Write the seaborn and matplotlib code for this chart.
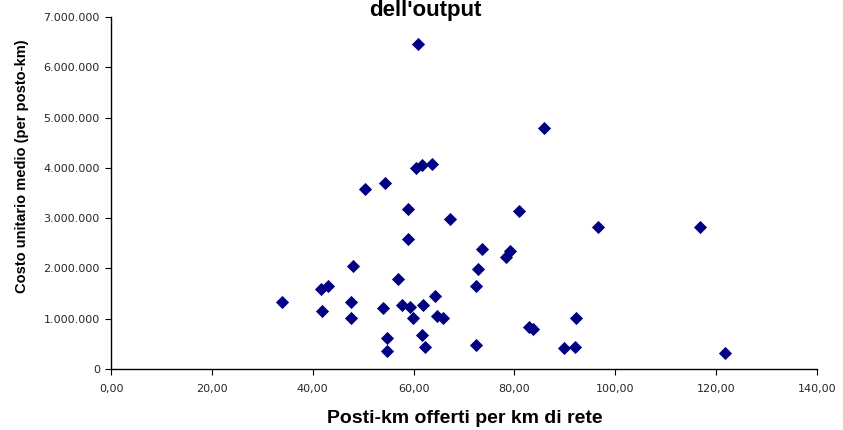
import matplotlib
matplotlib.use("Agg")
import matplotlib.pyplot as plt
import matplotlib.ticker as mticker
import seaborn as sns
import pandas as pd

# posti-km offerti per km di rete
posti_km = [60.8, 85.8, 63.6, 61.7, 60.5, 54.3, 50.4, 58.8, 67.3, 81.0,
            96.6, 116.7, 58.8, 73.6, 79.1, 78.3, 48.0, 72.7, 43.0, 41.6,
            56.9, 72.4, 64.3, 34.0, 47.5, 54.0, 57.7, 59.2, 61.8, 41.8,
            47.6, 59.9, 64.6, 65.9, 82.9, 83.7, 92.2, 54.7, 61.7, 54.7,
            62.3, 72.4, 89.9, 92.1, 121.7]
# costo unitario medio (per posto-km)
costo = [6460000, 4800000, 4080000, 4050000, 3990000, 3700000, 3570000, 3180000, 2980000, 3150000,
         2830000, 2830000, 2580000, 2380000, 2350000, 2230000, 2050000, 1990000, 1660000, 1600000,
         1780000, 1660000, 1460000, 1330000, 1330000, 1220000, 1270000, 1230000, 1270000, 1160000,
         1010000, 1010000, 1050000, 1010000, 840000, 800000, 1010000, 620000, 670000, 350000,
         440000, 480000, 410000, 440000, 320000]

df = pd.DataFrame({"x": posti_km, "y": costo})

sns.set_style("white")
plt.rcParams["font.family"] = ["Liberation Sans", "DejaVu Sans"]
plt.rcParams["text.color"] = "black"

fig = plt.figure(figsize=(8.43, 4.30), dpi=100)
ax = fig.add_axes([111 / 843, 1 - 369 / 430, (817 - 111) / 843, (369 - 17) / 430])

sns.scatterplot(data=df, x="x", y="y", marker="D", color="#000080",
                s=45, linewidth=0, ax=ax, clip_on=False)

ax.set_xlim(0, 140)
ax.set_ylim(0, 7000000)
ax.set_xticks(range(0, 141, 20))
ax.set_yticks(range(0, 7000001, 1000000))
ax.xaxis.set_major_formatter(mticker.FuncFormatter(lambda v, p: f"{v:.2f}".replace(".", ",")))
ax.yaxis.set_major_formatter(mticker.FuncFormatter(lambda v, p: f"{int(v):,}".replace(",", ".")))

for s in ["top", "right"]:
    ax.spines[s].set_visible(False)
for s in ["left", "bottom"]:
    ax.spines[s].set_color("black")
    ax.spines[s].set_linewidth(1.0)

ax.tick_params(axis="both", direction="out", length=4, width=0.8, color="black",
               labelsize=8, labelcolor="#262626", left=True, bottom=True)
ax.tick_params(axis="y", pad=4)
ax.tick_params(axis="x", pad=7)
for lab in ax.get_xticklabels() + ax.get_yticklabels():
    lab.set_family(["DejaVu Sans"])

ax.set_xlabel("Posti-km offerti per km di rete", fontsize=14, fontweight="bold", color="black")
ax.xaxis.set_label_coords((465 - 111) / 706, -(410 - 369) / 352)
ax.set_ylabel("Costo unitario medio (per posto-km)", fontsize=10.5, fontweight="bold", color="black")
ax.yaxis.set_label_coords(-(111 - 29) / 706, (369 - 166) / 352)

fig.text(425 / 843, 1.0, "dell'output", ha="center", va="top",
         fontsize=16, fontweight="bold")

fig.savefig("out.png", dpi=100, facecolor="white")
